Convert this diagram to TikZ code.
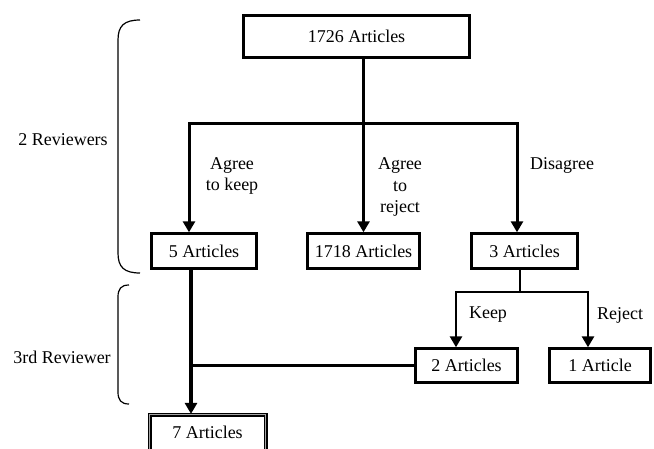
\documentclass[tikz,border=0pt]{standalone}
\usepackage{fontspec}
\setmainfont{Liberation Serif}
\usetikzlibrary{arrows.meta}
\begin{document}
\begin{tikzpicture}[x=1pt,y=-1pt,
  box/.style={draw, line width=2.4pt, inner sep=0pt, font=\fontsize{18}{22}\selectfont},
  lbl/.style={font=\fontsize{18}{21.5}\selectfont, align=center, inner sep=0pt},
  conn/.style={line width=3pt, -{Triangle[width=12pt,length=11pt]}},
  connb/.style={line width=2.6pt, -{Triangle[width=12pt,length=11pt]}},
  plain/.style={line width=3pt},
  brace/.style={line width=1.2pt}]
\useasboundingbox (0,0) rectangle (654,448);
\clip (0,0) rectangle (654,448);

% boxes
\node[box, minimum width=226pt, minimum height=42pt] (top) at (356.5,36.5) {1726 Articles};
\node[box, minimum width=105pt, minimum height=35pt] (a5) at (204,251) {5 Articles};
\node[box, minimum width=112pt, minimum height=35pt] (a1718) at (363.5,251) {1718 Articles};
\node[box, minimum width=106pt, minimum height=35pt] (a3) at (524.5,251) {3 Articles};
\node[box, minimum width=102pt, minimum height=34pt] (a2) at (466.5,365.5) {2 Articles};
\node[box, minimum width=101pt, minimum height=34pt] (a1) at (600,365.5) {1 Article};
\node[draw, line width=1.2pt, double=gray!70, double distance=1.6pt, inner sep=0pt,
      minimum width=116pt, minimum height=36pt, font=\fontsize{18}{22}\selectfont]
      (a7) at (207.5,432.5) {7 Articles};

% first level connectors
\coordinate (J) at (363,123);
\coordinate (L) at (189,123);
\coordinate (R) at (517,123);
\draw[conn] (top.south -| a1718.north) -- (a1718.north);
\draw[conn] (J) -- (L) -- (L |- a5.north);
\draw[conn] (J) -- (R) -- (R |- a3.north);

% second level connectors
\coordinate (S) at (520,292);
\coordinate (K) at (456,292);
\coordinate (Rj) at (588,292);
\draw[line width=2pt] (a3.south -| S) -- (S);
\draw[connb] (S) -- (K) -- (K |- a2.north);
\draw[connb] (S) -- (Rj) -- (Rj |- a1.north);

% to final
\coordinate (V) at (191,365.5);
\draw[line width=4pt, -{Triangle[width=12pt,length=11pt]}] (a5.south -| V) -- (V |- a7.north);
\draw[plain] (a2.west) -- (a2.west -| V);

% labels
\node[lbl] (l1) at (232,176) {Agree\\to keep};
\node[lbl] (l2) at (400,187) {Agree\\to\\reject};
\node[lbl] (l3) at (562,165) {Disagree};
\node[lbl] (l4) at (488,315) {Keep};
\node[lbl] (l5) at (620,315) {Reject};
\node[lbl] (r2) at (63,140) {2 Reviewers};
\node[lbl] (r3) at (62,357) {3rd Reviewer};

% braces
\draw[brace] (140,20) .. controls (124,20) and (118,26) .. (118,40) -- (118,253)
   .. controls (118,267) and (124,273) .. (140,273);
\draw[brace] (129,285) .. controls (121,285) and (118,289) .. (118,297) -- (118,392)
   .. controls (118,400) and (121,404) .. (129,404);
\end{tikzpicture}
\end{document}
